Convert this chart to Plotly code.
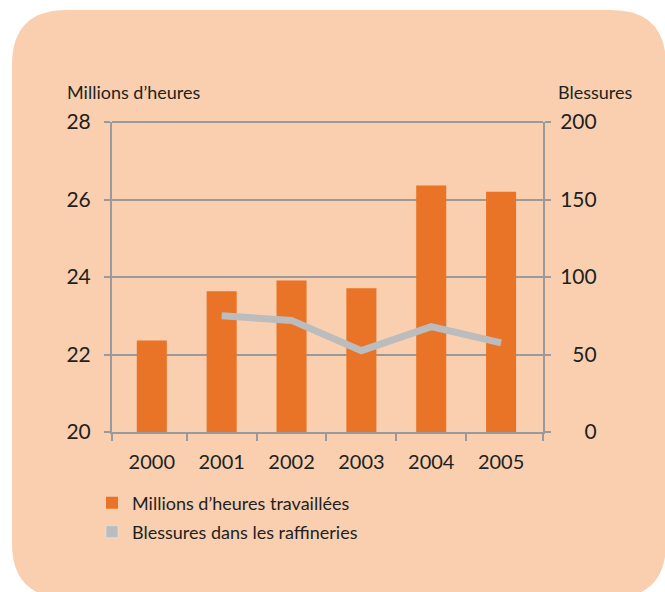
import plotly.graph_objects as go

# ---- data ----
years = [2000, 2001, 2002, 2003, 2004, 2005]
heures = [22.36, 23.63, 23.91, 23.71, 26.36, 26.2]          # millions d'heures travaillées
blessures_years = [2001, 2002, 2003, 2004, 2005]
blessures = [75, 72, 52.5, 68, 57.5]                          # blessures dans les raffineries
year_labels = ["2000", "2001", "2002", "2003", "2004", "2005"]
left_ticks = [20, 22, 24, 26, 28]
right_ticks = [0, 50, 100, 150, 200]
right_ticktext = ["\u2007\u20070", "\u200750", "100", "150", "200"]

BAR = "#E97326"
GREY = "#BBBCBD"
BG = "#F9CFB0"
AX = "#9A9A9C"
TXT = "#231F20"
FONT = "Lato"

W, H = 665, 592
L, R, T, B = 112, 543, 122, 432   # plot area in px
XR = [years[0] - 0.57, years[-1] + 0.6]
boundaries = [XR[0]] + [y + 0.5 for y in years[:-1]] + [XR[1]]

def px(x, y):
    """page pixel -> paper coords"""
    return (x - L) / (R - L), (B - y) / (B - T)

def rounded_path(x0, y0, x1, y1, r):
    def P(x, y):
        a, b = px(x, y)
        return f"{a:.5f},{b:.5f}"
    return (f"M {P(x0 + r, y0)} L {P(x1 - r, y0)} Q {P(x1, y0)} {P(x1, y0 + r)} "
            f"L {P(x1, y1 - r)} Q {P(x1, y1)} {P(x1 - r, y1)} "
            f"L {P(x0 + r, y1)} Q {P(x0, y1)} {P(x0, y1 - r)} "
            f"L {P(x0, y0 + r)} Q {P(x0, y0)} {P(x0 + r, y0)} Z")

fig = go.Figure()
fig.add_trace(go.Bar(x=years, y=heures, name="Millions d\u2019heures travaillées", width=0.43,
                     marker=dict(color=BAR, line=dict(width=0)), yaxis="y", legend="legend"))
fig.add_trace(go.Scatter(x=blessures_years, y=blessures, mode="lines", yaxis="y2",
                         line=dict(color=GREY, width=7), showlegend=False))
fig.add_trace(go.Bar(x=[None], y=[None], name="Blessures dans les raffineries",
                     marker=dict(color=GREY), yaxis="y", legend="legend2"))

leg_common = dict(xanchor="left", yanchor="middle", bgcolor="rgba(0,0,0,0)",
                  font=dict(size=18, color=TXT), itemclick=False, borderwidth=0)

fig.update_layout(
    width=W, height=H,
    margin=dict(l=L, r=W - R, t=T, b=H - B, pad=0),
    paper_bgcolor="white", plot_bgcolor="white",
    font=dict(family=FONT, color=TXT),
    barmode="overlay",
    xaxis=dict(range=XR, tickvals=years, ticktext=year_labels, showgrid=False,
               showline=True, linecolor=AX, linewidth=2, ticks="outside", ticklen=7,
               tickcolor="rgba(0,0,0,0)", tickfont=dict(size=20, color=TXT),
               ticklabelstandoff=4, zeroline=False,
               minor=dict(tickvals=boundaries, ticks="outside", ticklen=7,
                          tickcolor=AX, tickwidth=2, showgrid=False)),
    yaxis=dict(range=[20, 28], tickvals=left_ticks, ticktext=[str(v) for v in left_ticks],
               showgrid=True, gridcolor=AX, gridwidth=2, showline=True, linecolor=AX,
               linewidth=2, ticks="outside", ticklen=6, tickcolor=AX, tickwidth=2,
               tickfont=dict(size=21, color=TXT), ticklabelstandoff=9, zeroline=False),
    yaxis2=dict(range=[0, 200], tickvals=right_ticks, ticktext=right_ticktext,
                overlaying="y", side="right", showgrid=False, showline=True, linecolor=AX,
                linewidth=2, ticks="outside", ticklen=6, tickcolor=AX, tickwidth=2,
                tickfont=dict(size=21, color=TXT), ticklabelstandoff=5, zeroline=False),
    legend=dict(x=px(92, 0)[0], y=px(0, 503)[1], **leg_common),
    legend2=dict(x=px(92, 0)[0], y=px(0, 532)[1], **leg_common),
    shapes=[dict(type="path", xref="paper", yref="paper", layer="below",
                 path=rounded_path(12, 10, 666, 598, 55),
                 fillcolor=BG, line=dict(width=0)),
            dict(type="line", xref="paper", yref="paper", x0=0, x1=1, y0=1, y1=1,
                 line=dict(color=AX, width=2))],
    annotations=[
        dict(text="Millions d\u2019heures", xref="paper", yref="paper",
             x=px(65, 0)[0], y=px(0, 92)[1], xanchor="left", yanchor="middle",
             showarrow=False, font=dict(size=18, color=TXT)),
        dict(text="Blessures", xref="paper", yref="paper",
             x=px(635, 0)[0], y=px(0, 92)[1], xanchor="right", yanchor="middle",
             showarrow=False, font=dict(size=18, color=TXT)),
    ],
)

fig.write_html("out.html", config={"displayModeBar": False},
               post_script="document.body.style.margin='0';")
